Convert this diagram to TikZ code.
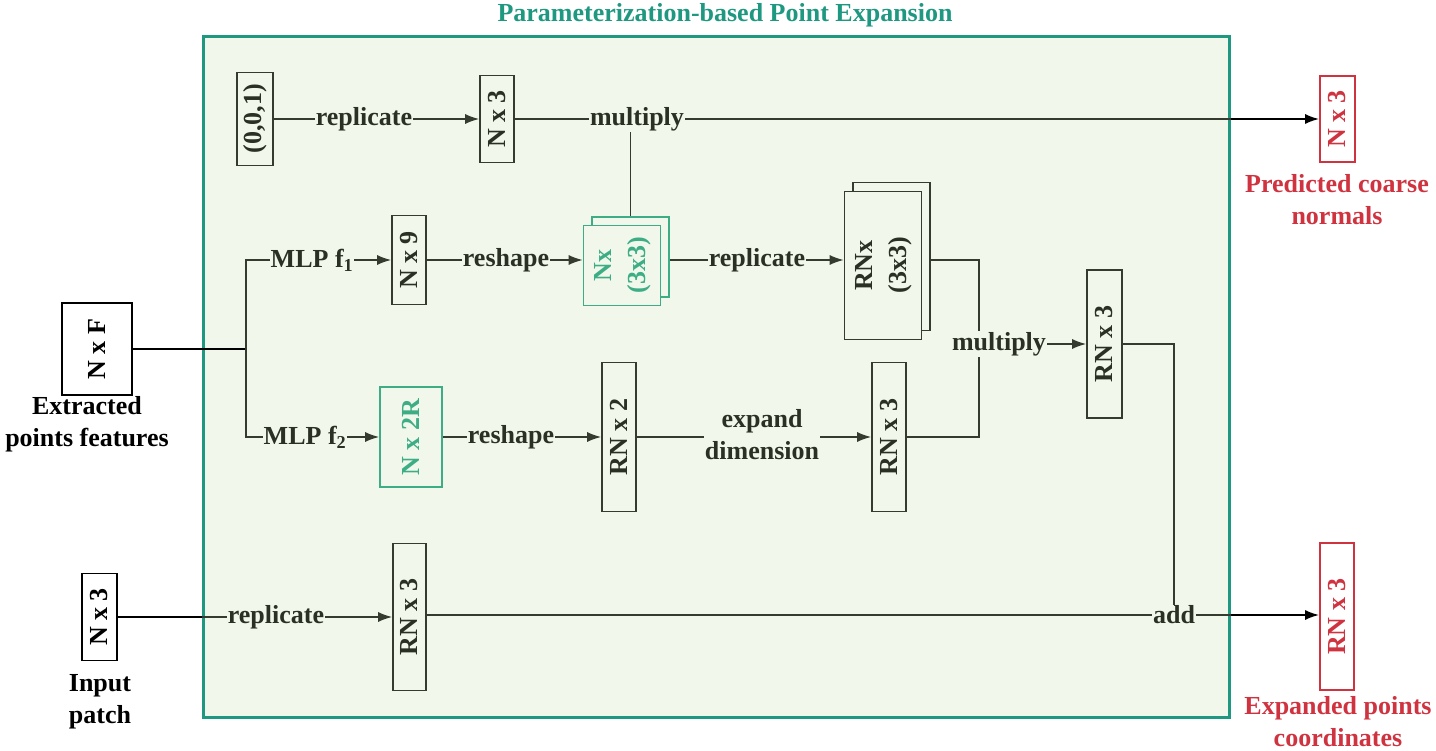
\documentclass[tikz,border=0pt]{standalone}
\usepackage{fontspec}
\setmainfont{Liberation Serif}
\usetikzlibrary{arrows.meta,calc}
\definecolor{bgc}{HTML}{F1F7EA}
\definecolor{fr}{HTML}{1E9880}
\definecolor{dk}{HTML}{363B30}
\definecolor{tx}{HTML}{2B3025}
\definecolor{gr}{HTML}{3DAD86}
\definecolor{rd}{HTML}{D03340}
\tikzset{
 base/.style={font=\fontsize{26}{32}\selectfont\bfseries},
 box/.style={base, draw=dk, line width=1.6pt, inner sep=0pt, text=tx},
 gbox/.style={box, draw=gr, text=gr},
 rbox/.style={box, draw=rd, text=rd},
 lbl/.style={base, text=tx, inner sep=1pt},
 olbl/.style={base, text=black, align=center, inner sep=0pt},
 ln/.style={draw=dk, line width=1.6pt},
 arr/.style={ln, -{Latex[length=14pt,width=10pt]}},
 oarr/.style={draw=black, line width=1.8pt, -{Latex[length=14pt,width=10pt]}},
}
\newcommand{\rt}[1]{\rotatebox{90}{#1}}
\newcommand{\rtt}[2]{\rotatebox{90}{\begin{tabular}{@{}c@{}}#1\\[2pt]#2\end{tabular}}}
\begin{document}
\begin{tikzpicture}[x=1pt,y=-1pt]
\useasboundingbox (0,0) rectangle (1436,751);
% frame
\node[draw=fr, fill=bgc, line width=3pt, minimum width=1026pt, minimum height=680pt, inner sep=0pt] (frame) at (716,377) {};
\node[lbl, text=fr] (title) at (725,15) {Parameterization-based Point Expansion};

% top row
\node[box, minimum width=36pt, minimum height=93pt] (c001) at (255,119) {\rt{(0,0,1)}};
\node[lbl] (lrep1) at (364,119) {replicate};
\node[box, minimum width=34pt, minimum height=87pt] (n3top) at (497,119) {\rt{N x 3}};
\node[lbl] (lmul1) at (637,119) {multiply};
\node[rbox, minimum width=35pt, minimum height=86pt] (outtop) at (1337.5,119) {\rt{N x 3}};
\node[base, text=rd, align=center, inner sep=0pt] (outtopl) at (1337,200) {Predicted coarse\\normals};

% left input
\node[box, draw=black, text=black, minimum width=70pt, minimum height=92pt] (nxf) at (97,349) {\rt{N x F}};
\node[olbl] (nxfl) at (87,424) {Extracted\\points features};
\coordinate (split) at (246,349);

% f1 branch
\node[lbl] (lmlp1) at (312,260) {MLP f\textsubscript{1}};
\node[box, minimum width=34pt, minimum height=89pt] (n9) at (409,260) {\rt{N x 9}};
\node[lbl] (lres1) at (506,260) {reshape};
\node[gbox, fill=bgc, minimum width=77pt, minimum height=80pt] (g9b) at (630.5,257) {};
\node[gbox, fill=bgc, minimum width=77pt, minimum height=80pt] (g9) at (622,265.5) {\rtt{Nx}{(3x3)}};
\node[lbl] (lrep2) at (757,260) {replicate};
\node[box, fill=bgc, minimum width=77pt, minimum height=148pt] (rn9b) at (891.5,256.5) {};
\node[box, fill=bgc, minimum width=77pt, minimum height=148pt] (rn9) at (883,265.5) {\rtt{RNx}{(3x3)}};

% f2 branch
\node[lbl] (lmlp2) at (305,437) {MLP f\textsubscript{2}};
\node[gbox, minimum width=62pt, minimum height=100pt] (n2r) at (411,437) {\rt{N x 2R}};
\node[lbl] (lres2) at (511,437) {reshape};
\node[box, minimum width=34pt, minimum height=149pt] (rn2) at (619,437) {\rt{RN x 2}};
\node[lbl, align=center] (lexp) at (762,435) {expand\\dimension};
\node[box, minimum width=34pt, minimum height=149pt] (rn3m) at (889,437) {\rt{RN x 3}};

% multiply 2
\coordinate (jx) at (979,0);
\node[lbl] (lmul2) at (999,344) {multiply};
\node[box, minimum width=35pt, minimum height=148pt] (rn3r) at (1104.5,344) {\rt{RN x 3}};
\coordinate (jy) at (1174,344);

% bottom row
\node[box, draw=black, text=black, minimum width=35pt, minimum height=87pt] (inp) at (99.5,617) {\rt{N x 3}};
\node[olbl] (inpl) at (100,702) {Input\\patch};
\node[lbl] (lrep3) at (276,617) {replicate};
\node[box, minimum width=33pt, minimum height=147pt] (rnb) at (409.5,617) {\rt{RN x 3}};
\node[lbl] (ladd) at (1174,615) {add};
\node[rbox, minimum width=34pt, minimum height=147pt] (outbot) at (1337,616.5) {\rt{RN x 3}};
\node[base, text=rd, align=center, inner sep=0pt] (outbotl) at (1338,722) {Expanded points\\coordinates};

% connectors top
\draw[ln] (c001) -- (lrep1);
\draw[arr] (lrep1) -- (n3top);
\draw[ln] (n3top) -- (lmul1);
\draw[oarr] (lmul1) -- (outtop);
\draw[ln] (lmul1) -- (lmul1 -| frame.east);
\draw[ln] (g9b.north) -- (g9b.north |- lmul1.south);

% split
\draw[ln, draw=black] (nxf) -- (split);
\draw[ln] (lmlp1) -| (split);
\draw[ln] (lmlp2) -| (split);
\draw[arr] (lmlp1) -- (n9);
\draw[arr] (lmlp2) -- (n2r);

% f1 chain
\draw[ln] (n9) -- (lres1);
\draw[arr] (lres1) -- (lres1 -| g9.west);
\draw[ln] (lrep2 -| g9b.east) -- (lrep2);
\draw[arr] (lrep2) -- (lrep2 -| rn9.west);
\draw[ln] (lrep2 -| rn9b.east) -| (jx |- lmul2.north);

% f2 chain
\draw[ln] (n2r) -- (lres2);
\draw[arr] (lres2) -- (rn2);
\draw[ln] (rn2) -- (rn2 -| lexp.west);
\draw[arr] (rn3m -| lexp.east) -- (rn3m);
\draw[ln] (rn3m) -| (jx |- lmul2.south);

% multiply 2
\draw[arr] (lmul2) -- (rn3r);
\draw[ln] (rn3r) -- (jy) -- (ladd.north -| jy);

% bottom
\draw[ln, draw=black] (inp) -- (inp -| frame.west);
\draw[ln] (inp -| frame.west) -- (lrep3);
\draw[arr] (lrep3) -- (rnb);
\draw[ln] (rnb.east |- ladd) -- (ladd);
\draw[oarr] (ladd.east) -- (ladd.east -| outbot.west);
\draw[ln] (ladd.east) -- (ladd.east -| frame.east);
\end{tikzpicture}
\end{document}
